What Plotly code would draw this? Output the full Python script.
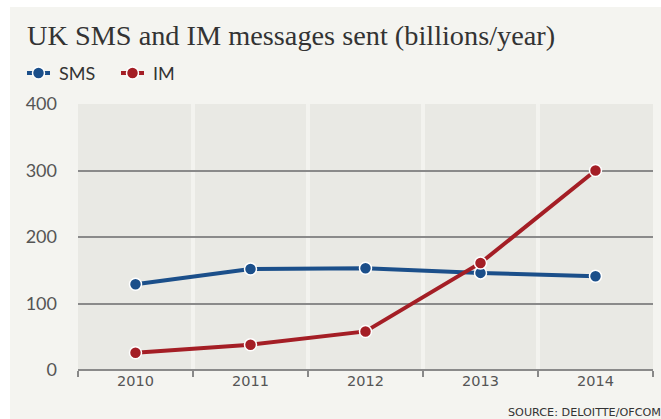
import plotly.graph_objects as go

# Data: UK messages sent, billions per year
years = ["2010", "2011", "2012", "2013", "2014"]
sms = [129, 152, 153, 146, 141]
im = [26, 38, 58, 161, 300]
y_ticks = [0, 100, 200, 300, 400]
series_names = ["SMS", "IM"]

SMS_COLOR = "#1b4f8a"
IM_COLOR = "#a41e25"
PANEL_BG = "#f4f4f0"
PLOT_BG = "#e9e9e4"
TEXT = "#555555"

W, H = 661, 419
L, R, T, B = 78, 8, 104, 49
PW, PH = W - L - R, H - T - B


def px_x(px):
    """Convert a page x pixel into paper coordinates."""
    return (px - L) / PW


def px_y(py):
    """Convert a page y pixel (from top) into paper coordinates."""
    return (H - B - py) / PH


fig = go.Figure()
colors = [SMS_COLOR, IM_COLOR]
for name, vals, color in zip(series_names, [sms, im], colors):
    fig.add_trace(go.Scatter(
        x=years, y=vals, name=name, mode="lines+markers",
        line=dict(color=color, width=4),
        marker=dict(size=12, color=color, line=dict(color="white", width=1.5)),
        showlegend=False,
    ))

shapes = [
    # thin white strips along the top and left edges of the panel
    dict(type="rect", xref="paper", yref="paper", layer="below",
         x0=px_x(-5), x1=px_x(W + 5), y0=px_y(7), y1=px_y(-5),
         fillcolor="white", line=dict(width=0)),
    dict(type="rect", xref="paper", yref="paper", layer="below",
         x0=px_x(-5), x1=px_x(10), y0=px_y(H + 5), y1=px_y(-5),
         fillcolor="white", line=dict(width=0)),
]
annotations = [
    dict(text="UK SMS and IM messages sent (billions/year)",
         xref="paper", yref="paper", x=px_x(25), y=px_y(35),
         xanchor="left", yanchor="middle", showarrow=False,
         font=dict(family="Liberation Serif", size=28.3, color="#333333")),
    dict(text="SOURCE: DELOITTE/OFCOM",
         xref="paper", yref="paper", x=px_x(663), y=px_y(412),
         xanchor="right", yanchor="middle", showarrow=False,
         font=dict(family="DejaVu Sans", size=11.2, color="#333333")),
]

# hand-drawn legend: short line, dot, label
legend_x = [27, 121]
for name, color, lx in zip(series_names, colors, legend_x):
    shapes.append(dict(type="line", xref="paper", yref="paper",
                       x0=px_x(lx), x1=px_x(lx + 23), y0=px_y(73), y1=px_y(73),
                       line=dict(color=color, width=4)))
    shapes.append(dict(type="circle", xref="paper", yref="paper",
                       xsizemode="pixel", ysizemode="pixel",
                       xanchor=px_x(lx + 11.5), yanchor=px_y(73),
                       x0=-6, x1=6, y0=-6, y1=6,
                       fillcolor=color, line=dict(color="white", width=1.5)))
    annotations.append(dict(text=name, xref="paper", yref="paper",
                            x=px_x(lx + 30), y=px_y(73),
                            xanchor="left", yanchor="middle", showarrow=False,
                            font=dict(family="Lato", size=18, color="#333333")))

fig.update_layout(
    width=W, height=H,
    margin=dict(l=L, r=R, t=T, b=B, pad=0),
    paper_bgcolor=PANEL_BG, plot_bgcolor=PLOT_BG,
    font=dict(family="DejaVu Sans", color=TEXT),
    showlegend=False,
    xaxis=dict(
        type="category", tickson="boundaries",
        showgrid=True, gridcolor="#f3f3ef", gridwidth=4,
        ticks="outside", ticklen=6, tickcolor="#888888", tickwidth=1.5,
        showline=False, range=[-0.5, 4.5],
        tickfont=dict(size=14.5, color=TEXT), fixedrange=True,
    ),
    yaxis=dict(
        range=[0, 400], tickvals=y_ticks, showgrid=True,
        gridcolor="#8a8a8a", gridwidth=1.5, zeroline=True,
        zerolinecolor="#8a8a8a", zerolinewidth=1.5,
        ticks="", ticklabelstandoff=20,
        tickfont=dict(family="Lato", size=18, color=TEXT), fixedrange=True,
    ),
    shapes=shapes,
    annotations=annotations,
)

fig.write_html("out.html")
